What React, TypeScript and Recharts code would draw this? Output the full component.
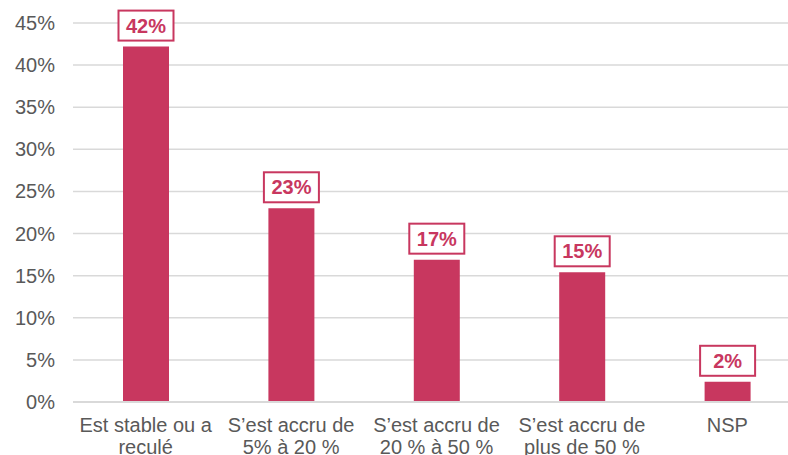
import { BarChart, Bar, XAxis, YAxis, CartesianGrid, LabelList } from "recharts";

// catégories et valeurs
const categories = [
  "Est stable ou a\nreculé",
  "S’est accru de\n5% à 20 %",
  "S’est accru de\n20 % à 50 %",
  "S’est accru de\nplus de 50 %",
  "NSP",
];
const values = [42.2, 23.0, 16.9, 15.4, 2.4];
const yTicks = [0, 5, 10, 15, 20, 25, 30, 35, 40, 45];

const data = categories.map((name, i) => ({ name, value: values[i] }));

const PINK = "#C8375F";
const GREY_TEXT = "#595959";
const FONT = "'Liberation Sans', Arial, sans-serif";

const XTick = (props: any) => {
  const { x, y, payload } = props;
  const lines = String(payload.value).split("\n");
  return (
    <text x={x} y={y} textAnchor="middle" fill={GREY_TEXT} fontSize={20} fontFamily={FONT}>
      {lines.map((l, i) => (
        <tspan key={i} x={x} y={y + 22 + i * 22}>
          {l}
        </tspan>
      ))}
    </text>
  );
};

const YTick = (props: any) => {
  const { y, payload } = props;
  return (
    <text x={55} y={y} dy={7} textAnchor="end" fill={GREY_TEXT} fontSize={20} fontFamily={FONT}>
      {payload.value}%
    </text>
  );
};

const BoxLabel = (props: any) => {
  const { x, y, width, value } = props;
  const cx = x + width / 2;
  const w = 55;
  const h = 30;
  const top = y - 6 - h;
  return (
    <g>
      <rect x={cx - w / 2} y={top} width={w} height={h} fill="#fff" stroke={PINK} strokeWidth={2} />
      <text x={cx} y={top + h / 2 + 7} textAnchor="middle" fill={PINK} fontSize={20} fontWeight="bold" fontFamily={FONT}>
        {Math.round(value)}%
      </text>
    </g>
  );
};

export default function App() {
  return (
    <div style={{ position: "absolute", left: 0, top: 0, width: 788, height: 455, overflow: "hidden", background: "#fff" }}>
      <BarChart width={800} height={455} data={data} margin={{ top: 23, right: 0, left: 0, bottom: 0 }}>
        <CartesianGrid vertical={false} stroke="#D9D9D9" strokeWidth={1.5} />
        <XAxis
          dataKey="name"
          height={53}
          interval={0}
          tickLine={false}
          axisLine={{ stroke: "#D9D9D9", strokeWidth: 2 }}
          tick={<XTick />}
        />
        <YAxis
          width={73}
          domain={[0, 45]}
          ticks={yTicks}
          interval={0}
          tickLine={false}
          axisLine={false}
          tick={<YTick />}
        />
        <Bar dataKey="value" fill={PINK} barSize={46} isAnimationActive={false}>
          <LabelList dataKey="value" content={<BoxLabel />} />
        </Bar>
      </BarChart>
    </div>
  );
}
